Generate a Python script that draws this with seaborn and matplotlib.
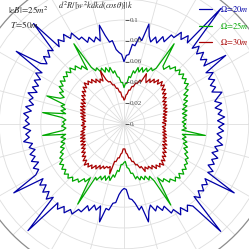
import numpy as np
import pandas as pd
import matplotlib
matplotlib.use("Agg")
import matplotlib.pyplot as plt
import matplotlib.transforms as mtransforms
import seaborn as sns

# angle grid (degrees) and radii, in units of 1e-3
theta_deg = list(range(0, 360, 2))

r_omega20 = [
    96, 90, 97, 91, 95, 89, 96, 90, 94, 99, 90, 95, 91, 97, 92, 99, 93, 118, 95, 101,
    96, 103, 97, 104, 98, 145, 99, 105, 98, 104, 96, 97, 88, 92, 84, 89, 83, 88, 99, 82,
    85, 76, 77, 67, 66,
    60, 67, 69, 72, 81, 80, 87, 98, 83, 88, 84, 90, 86, 93, 92, 101, 97, 104, 98, 103,
    97, 130, 98, 102, 96, 101, 94, 99, 125, 93, 98, 91, 96, 90, 95, 89, 97, 91, 94, 89,
    96, 90, 97, 92, 95,
    91, 97, 90, 95, 92, 98, 90, 94, 89, 95, 91, 96, 90, 97, 93, 98, 125, 94, 100, 95,
    102, 97, 104, 98, 138, 99, 104, 98, 103, 97, 100, 93, 94, 86, 90, 83, 87, 82, 97, 83,
    84, 77, 76, 68, 64,
    62, 63, 72, 73, 77, 84, 81, 97, 87, 82, 89, 85, 91, 88, 97, 95, 103, 97, 104, 99,
    103, 139, 97, 102, 96, 100, 95, 99, 94, 125, 93, 97, 90, 95, 91, 96, 89, 94, 90, 97,
    91, 95, 90, 96, 91,
]

r_omega25 = [
    59, 56, 60, 57, 61, 57, 62, 58, 63, 60, 65, 62, 67, 64, 70, 68, 73, 70, 74, 71,
    75, 71, 75, 71, 74, 69, 71, 65, 67, 91, 62, 58, 60, 55, 58, 53, 57, 52, 56, 50,
    52, 45, 46, 39, 39,
    35, 40, 40, 45, 46, 52, 50, 56, 52, 57, 53, 58, 55, 60, 58, 63, 91, 63, 69, 67,
    73, 70, 75, 71, 75, 71, 74, 70, 74, 69, 72, 66, 69, 63, 66, 79, 60, 63, 58, 62,
    57, 79, 60, 56, 59,
    57, 60, 56, 59, 79, 57, 62, 58, 63, 60, 65, 62, 67, 65, 70, 68, 73, 70, 74, 71,
    75, 72, 75, 71, 74, 69, 71, 65, 67, 61, 89, 58, 60, 55, 58, 53, 57, 52, 56, 50,
    52, 45, 46, 39, 39,
    37, 36, 42, 43, 48, 48, 54, 52, 56, 53, 57, 54, 59, 56, 62, 90, 61, 67, 65, 71,
    69, 74, 71, 75, 71, 75, 71, 74, 70, 72, 68, 70, 65, 67, 62, 65, 60, 63, 58, 61,
    57, 79, 56, 60, 57,
]

r_omega30 = [
    40, 37, 41, 38, 41, 38, 42, 39, 43, 40, 44, 41, 45, 42, 46, 43, 48, 45, 50, 47,
    52, 49, 54, 51, 55, 50, 54, 49, 52, 47, 50, 45, 48, 53, 44, 45, 41, 41, 37, 37,
    33, 33, 29, 28, 24,
    23, 26, 26, 31, 31, 35, 35, 39, 39, 43, 43, 46, 56, 46, 49, 46, 51, 48, 53, 50,
    54, 51, 55, 50, 53, 48, 51, 46, 49, 44, 47, 42, 46, 41, 45, 40, 44, 39, 43, 38,
    42, 38, 41, 37, 40,
    38, 41, 37, 40, 38, 42, 39, 43, 39, 44, 40, 45, 41, 46, 42, 47, 44, 49, 46, 51,
    48, 53, 50, 55, 51, 54, 50, 53, 48, 51, 46, 49, 45, 47, 44, 45, 43, 50, 37, 37,
    33, 33, 29, 28, 24,
    24, 24, 28, 29, 33, 33, 37, 37, 41, 41, 45, 44, 50, 46, 49, 47, 51, 48, 53, 50,
    54, 51, 55, 50, 53, 48, 51, 46, 49, 44, 47, 42, 46, 41, 44, 40, 43, 39, 42, 38,
    41, 38, 40, 37, 40,
]

series_names = [r"$\Omega\!=\!20m$", r"$\Omega\!=\!25m$", r"$\Omega\!=\!30m$"]
series_colors = ["#0000a8", "#00a800", "#a80000"]
rtick_vals = [0.0, 0.02, 0.04, 0.06, 0.08, 0.1]
rtick_labels = ["0.", "0.02", "0.04", "0.06", "0.08", "0.1"]

frames = []
for name, r in zip(series_names, [r_omega20, r_omega25, r_omega30]):
    frames.append(pd.DataFrame({
        "theta": np.deg2rad(theta_deg + [360]),
        "r": np.array(r + [r[0]]) / 1000.0,
        "series": name,
    }))
df = pd.concat(frames, ignore_index=True)

sns.set_style("white")
plt.rcParams["font.family"] = ["Liberation Serif", "DejaVu Serif"]
plt.rcParams["mathtext.fontset"] = "stix"

fig = plt.figure(figsize=(2.49, 2.49), dpi=100)
ax = fig.add_axes([-0.1325, -0.1285, 1.261, 1.261], projection="polar")

sns.lineplot(data=df, x="theta", y="r", hue="series", palette=series_colors,
             sort=False, estimator=None, lw=0.9, ax=ax)

ax.set_ylim(0, 0.151)
ax.set_thetagrids(range(0, 360, 15), labels=[])
ax.set_rgrids([0.02, 0.04, 0.06, 0.08, 0.1, 0.12, 0.14], labels=[])
ax.grid(True, color="#dedede", lw=0.6)
ax.spines["polar"].set_color("#8c8c8c")
ax.spines["polar"].set_linewidth(0.9)
ax.set_xlabel("")
ax.set_ylabel("")

# radial axis labels along the vertical direction
lab_tr = mtransforms.offset_copy(ax.transData, fig=fig, x=6, y=0, units="dots")
tick_tr = mtransforms.offset_copy(ax.transData, fig=fig, x=3, y=0, units="dots")
ax.plot([np.pi / 2] * len(rtick_vals), rtick_vals, ls="none", marker="_",
        ms=3, mew=0.6, color="#555555", transform=tick_tr, zorder=5)
for rv, lab in zip(rtick_vals, rtick_labels):
    ax.text(np.pi / 2, rv, lab, transform=lab_tr, ha="left", va="center",
            fontsize=5, color="#444444", zorder=6)

fig.text(8 / 249, 1 - 10 / 249, r"$|eB|\!=\!25m^2$", fontsize=6.5, va="center")
fig.text(10 / 249, 1 - 24 / 249, r"$T\!=\!50m$", fontsize=6.5, va="center")
fig.text(58 / 249, 1 - 6 / 249, r"$d^2R/[w^2kdkd(cos\theta)]|k$", fontsize=6, va="center")

ax.legend(loc="upper left", bbox_to_anchor=(197 / 249, 1 - 2 / 249),
          bbox_transform=fig.transFigure, frameon=False, fontsize=6,
          handlelength=1.6, handletextpad=0.9, labelspacing=0.75,
          labelcolor="linecolor", borderaxespad=0, borderpad=0.2)

fig.savefig("out.png", dpi=100)
